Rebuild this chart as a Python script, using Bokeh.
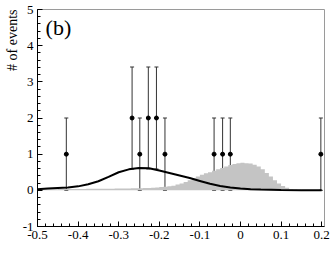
from bokeh.plotting import figure
from bokeh.models import (Range1d, FixedTicker, ColumnDataSource, Whisker, TeeHead, Label, Title)
from bokeh.embed import file_html
from bokeh.resources import INLINE

# ---- data ----
bin_width = 0.01
bin_left = [round(-0.50 + bin_width * i, 2) for i in range(70)]
bin_height = [
    0.030, 0.030, 0.031, 0.032, 0.033, 0.034, 0.035, 0.036, 0.037, 0.038,
    0.039, 0.040, 0.041, 0.042, 0.043, 0.044, 0.045, 0.046, 0.047, 0.048,
    0.050, 0.052, 0.054, 0.056, 0.058, 0.060, 0.063, 0.066, 0.070, 0.078,
    0.090, 0.100, 0.110, 0.130, 0.160, 0.190, 0.230, 0.280, 0.330, 0.380,
    0.430, 0.470, 0.500, 0.540, 0.580, 0.620, 0.660, 0.700, 0.730, 0.750,
    0.760, 0.750, 0.740, 0.710, 0.660, 0.580, 0.480, 0.380, 0.280, 0.190,
    0.120, 0.070, 0.040, 0.020, 0.010, 0.005, 0.000, 0.000, 0.000, 0.000,
]

curve_x = [-0.5, -0.475, -0.45, -0.425, -0.4, -0.375, -0.35, -0.325, -0.3, -0.275,
           -0.25, -0.225, -0.2, -0.175, -0.15, -0.125, -0.1, -0.075, -0.05, -0.025,
           0.0, 0.025, 0.05, 0.1, 0.15, 0.2]
curve_y = [0.03, 0.05, 0.065, 0.08, 0.11, 0.17, 0.25, 0.37, 0.50, 0.58,
           0.62, 0.61, 0.55, 0.48, 0.41, 0.34, 0.26, 0.18, 0.12, 0.08,
           0.05, 0.03, 0.02, 0.01, 0.005, 0.0]

pt_x = [-0.429, -0.267, -0.248, -0.227, -0.207, -0.186, -0.065, -0.044, -0.025, 0.198]
pt_y = [1, 2, 1, 2, 2, 1, 1, 1, 1, 1]
err_hi = [2, 3.41, 2, 3.41, 3.41, 2, 2, 2, 2, 2]
err_lo = [0, 0.59, 0, 0.59, 0.59, 0, 0, 0, 0, 0]

x_ticks = [-0.5, -0.4, -0.3, -0.2, -0.1, 0.0, 0.1, 0.2]
x_tick_labels = ["-0.5", "-0.4", "-0.3", "-0.2", "-0.1", "0", "0.1", "0.2"]
y_ticks = [-1, 0, 1, 2, 3, 4, 5]
y_tick_labels = ["-1", "0", "1", "2", "3", "4", "5"]

FONT = "'Liberation Serif', 'Times New Roman', serif"

p = figure(width=332, height=270, output_backend="svg", toolbar_location=None,
           x_range=Range1d(-0.5, 0.207), y_range=Range1d(-1, 5),
           min_border_left=37, min_border_right=8, min_border_top=9,
           min_border_bottom=44)
p.background_fill_color = "white"
p.border_fill_color = "white"
p.outline_line_color = "#9a9a9a"
p.xgrid.visible = False
p.ygrid.visible = False

# histogram as one filled step outline (no seams between bins)
hx, hy = [bin_left[0]], [0.0]
for left, h in zip(bin_left, bin_height):
    hx += [left, left + bin_width]
    hy += [h, h]
hx.append(bin_left[-1] + bin_width)
hy.append(0.0)
p.patch(hx, hy, fill_color="#c4c4c4", line_color=None)

# curve
p.line(curve_x, curve_y, line_color="black", line_width=2)

# error bars
src = ColumnDataSource(dict(x=pt_x, y=pt_y, hi=err_hi, lo=err_lo))
w = Whisker(source=src, base="x", upper="hi", lower="lo", dimension="height",
            line_color="#333333", line_width=1,
            upper_head=TeeHead(size=4, line_color="#333333", line_width=1),
            lower_head=TeeHead(size=4, line_color="#333333", line_width=1))
p.add_layout(w)
p.scatter("x", "y", source=src, size=4, color="black")

# axes
for ax, ticks, labels in ((p.xaxis[0], x_ticks, x_tick_labels),
                          (p.yaxis[0], y_ticks, y_tick_labels)):
    ax.major_label_overrides = {t: l for t, l in zip(ticks, labels)}
    ax.axis_line_color = "black"
    ax.major_tick_in = 5
    ax.major_tick_out = 0
    ax.minor_tick_in = 3
    ax.minor_tick_out = 0
    ax.major_tick_line_color = "black"
    ax.minor_tick_line_color = "black"
    ax.major_label_text_font = FONT
    ax.major_label_text_font_size = "13px"
    ax.major_label_text_color = "black"
    ax.major_label_standoff = 4

p.xaxis[0].ticker = FixedTicker(ticks=x_ticks,
                                minor_ticks=[round(-0.5 + 0.02 * i, 2) for i in range(36)])
p.yaxis[0].ticker = FixedTicker(ticks=y_ticks,
                                minor_ticks=[round(-1 + 0.2 * i, 1) for i in range(31)])

p.add_layout(Label(x=-0.48, y=4.5, text="(b)", text_font=FONT,
                   text_font_size="22px", text_baseline="middle", text_color="black"))
p.add_layout(Title(text="# of events", text_font=FONT, text_font_size="14px",
                   text_font_style="normal", align="right", standoff=0,
                   text_color="black"), "left")

open("out.html", "w").write(file_html(p, INLINE))
